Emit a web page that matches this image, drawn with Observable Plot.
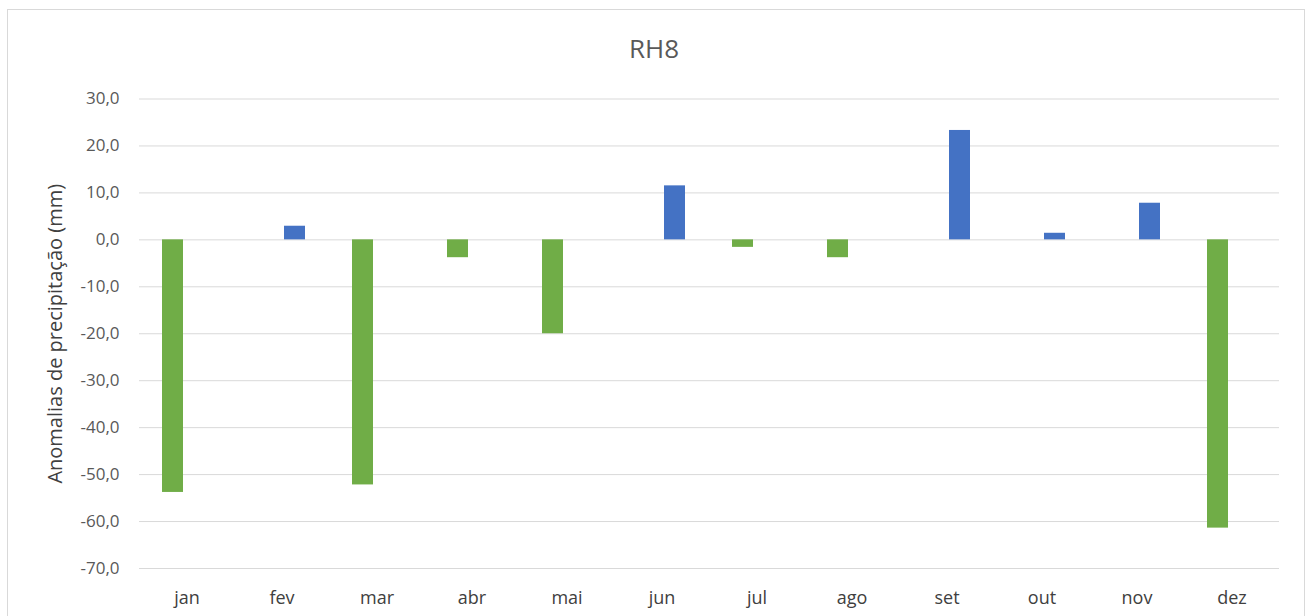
<!DOCTYPE html>
<html>
<head>
<meta charset="utf-8">
<script src="https://cdn.jsdelivr.net/npm/d3@7"></script>
<script src="https://cdn.jsdelivr.net/npm/@observablehq/plot@0.6"></script>
<style>
  html, body { margin: 0; padding: 0; background: #fff; }
  #frame { position: absolute; left: 7px; top: 9px; width: 1298px; height: 620px; border: 1px solid #d9d9d9; box-sizing: border-box; }
  #wrap { position: absolute; left: 0; top: 0; width: 1308px; height: 616px; overflow: hidden; }
  #title { position: absolute; left: 0; top: 30px; width: 1308px; height: 36px; text-align: center; font-family: "Open Sans", sans-serif; font-size: 26px; color: #595959; line-height: 36px; }
  #chart { position: absolute; left: 0; top: 70px; }
</style>
</head>
<body>
<div id="wrap">
  <div id="frame"></div>
  <div id="title">RH8</div>
  <div id="chart"></div>
</div>
<script>
const months = ["jan","fev","mar","abr","mai","jun","jul","ago","set","out","nov","dez"];
const values = [-53.8, 2.9, -52.2, -3.8, -20.0, 11.5, -1.6, -3.8, 23.3, 1.4, 7.8, -61.4];
const seriesNames = ["negativa", "positiva"];
const seriesColors = ["#70ad47", "#4472c4"];
const yTicks = [30, 20, 10, 0, -10, -20, -30, -40, -50, -60, -70];
const yLabel = "Anomalias de precipitação (mm)";

const data = months.map((m, i) => ({
  month: m,
  value: values[i],
  series: values[i] < 0 ? seriesNames[0] : seriesNames[1]
}));

const fmt = d => d.toFixed(1).replace(".", ",");

const chart = Plot.plot({
  width: 1308,
  height: 546,
  marginTop: 28.5,
  marginBottom: 48,
  marginLeft: 137,
  marginRight: 27,
  style: { fontFamily: "'Open Sans', sans-serif", background: "transparent" },
  fx: { domain: months, padding: 0 },
  x: { domain: seriesNames, paddingInner: 0.21, paddingOuter: 0.86, axis: null },
  y: { domain: [-70, 30] },
  color: { domain: seriesNames, range: seriesColors },
  marks: [
    Plot.gridY(yTicks, { stroke: "#d9d9d9", strokeOpacity: 1, strokeWidth: 1 }),
    Plot.barY(data, { fx: "month", x: "series", y: "value", fill: "series" }),
    Plot.axisY({ ticks: yTicks, tickSize: 0, tickPadding: 20, tickFormat: fmt, fontSize: 17, fill: "#595959", label: yLabel, labelAnchor: "center", labelArrow: "none", labelOffset: 92 }),
    Plot.axisFx({ anchor: "bottom", tickSize: 0, tickPadding: 23, fontSize: 18, fill: "#404040", label: null })
  ]
});
document.getElementById("chart").appendChild(chart);
const lbl = chart.querySelectorAll("g[aria-label='y-axis label'] text");
lbl.forEach(t => { t.setAttribute("font-size", "20"); t.setAttribute("fill", "#404040"); });
</script>
</body>
</html>
